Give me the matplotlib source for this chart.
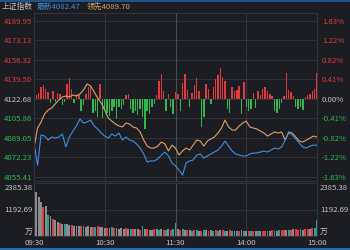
import numpy as np
import matplotlib
matplotlib.use('Agg')
import matplotlib.pyplot as plt

plt.rcParams['font.family'] = ['Noto Sans CJK SC', 'DejaVu Sans']

# 数据
prev_close = 4122.68
price_ticks = [4189.95, 4173.13, 4156.32, 4139.50, 4122.68, 4105.86, 4089.05, 4072.23, 4055.41]
vol_ticks = [1192.69, 2385.38]
time_labels = ['09:30', '10:30', '11:30', '14:00', '15:00']

# 最新价 (每3分钟)
price = [4084.6, 4065.7, 4091.5, 4090.6, 4087.2, 4089.8, 4088.9, 4089.8, 4092.4, 4081.2,
         4089.8, 4094.9, 4099.3, 4105.3, 4101.8, 4102.7, 4104.4, 4099.3, 4096.7, 4093.2,
         4090.6, 4088.9, 4092.4, 4090.6, 4093.2, 4087.2, 4089.8, 4087.2, 4086.3, 4083.8,
         4080.3, 4075.2, 4068.3, 4069.2, 4069.2, 4070.9, 4074.3, 4076.9, 4073.5, 4067.5,
         4064.9, 4061.4, 4057.1, 4067.5, 4069.2, 4070.0, 4074.3, 4075.2, 4071.7, 4073.5,
         4075.2, 4076.9, 4078.6, 4082.0, 4086.3, 4082.0, 4077.8, 4075.2, 4074.3, 4073.5,
         4073.5, 4075.2, 4076.0, 4076.0, 4076.9, 4077.8, 4076.9, 4078.6, 4080.3, 4079.5,
         4081.2, 4087.2, 4093.2, 4091.5, 4088.1, 4084.6, 4081.2, 4080.3, 4082.0, 4082.9,
         4082.47]
# 领先指标 (每3分钟)
lead = [4080.3, 4097.5, 4102.7, 4109.6, 4113.0, 4114.7, 4118.2, 4121.6, 4124.2, 4125.0,
        4124.2, 4125.9, 4125.0, 4126.8, 4130.2, 4135.4, 4133.6, 4128.5, 4123.3, 4119.0,
        4113.0, 4106.1, 4103.5, 4101.0, 4099.3, 4098.4, 4101.8, 4101.0, 4098.4, 4097.5,
        4094.1, 4087.2, 4082.0, 4080.3, 4080.3, 4082.0, 4085.5, 4083.8, 4077.8, 4082.9,
        4080.3, 4074.3, 4077.8, 4080.3, 4078.6, 4082.9, 4087.2, 4086.3, 4082.0, 4086.3,
        4088.1, 4089.8, 4093.2, 4097.5, 4104.4, 4098.4, 4095.8, 4095.8, 4099.3, 4101.8,
        4103.5, 4098.4, 4097.5, 4096.7, 4094.9, 4093.2, 4090.6, 4092.4, 4094.1, 4093.2,
        4094.1, 4087.2, 4094.1, 4093.2, 4089.8, 4086.3, 4085.5, 4087.2, 4088.9, 4090.6,
        4089.70]
# 多空力量 (每2分钟)
power = [5, 4, 6, 12, 14, 10, 7, -4, 8, -3, 6, 5, -6, -3, 15, 21, 10, -4, 5, 4,
         -12, -6, 5, 12, 13, -14, -12, -18, 15, -19, -10, -14, -17, -12, -8, -20, -8, -10, -6, 4,
         5, -10, -14, -12, -16, -10, -18, -30, -12, -15, -8, -5, 4, 18, 25, 8, -12, 5, -8, -15,
         7, 5, -12, 16, 25, 9, -8, 6, 14, 21, 8, -28, -18, 15, 10, -5, 12, 20, 24, 31,
         22, 18, -10, -14, 12, 8, 9, 13, -15, 17, -8, -12, -10, 6, -9, 8, 4, 10, 12, 8,
         5, 3, -12, -14, -10, -4, 3, 26, 9, 7, 3, -8, -10, -8, -11, 2, 4, 5, 8, 10,
         26]
# 成交量 万 (每2分钟)
volume = [2385, 1980, 1760, 1540, 1300, 1350, 950, 880, 780, 700,
          640, 600, 560, 540, 520, 500, 480, 470, 450, 460,
          440, 430, 420, 450, 410, 420, 400, 430, 390, 400,
          380, 370, 360, 390, 350, 340, 330, 360, 320, 340,
          310, 320, 300, 330, 310, 290, 450, 300, 310, 290,
          280, 320, 300, 290, 300, 280, 270, 300, 280, 310,
          600, 330, 280, 300, 290, 250, 260, 240, 270, 250,
          240, 230, 260, 250, 240, 260, 230, 250, 240, 280,
          260, 240, 230, 250, 220, 240, 230, 220, 250, 230,
          220, 240, 230, 220, 240, 230, 210, 230, 220, 240,
          230, 250, 240, 230, 250, 260, 250, 280, 270, 260,
          300, 320, 290, 300, 280, 320, 330, 310, 350, 380,
          720]
vol_color = ('wgggrgtgrggrgtggrggg' 'rtgggrtrgggrgtrggggr'
             'gtrggrtgrggrgtgrtgrt' 'tgrtgrgtrtgrtgrgtrtg'
             'rtgrtgtrgtgrtrgtgrrt' 'grtgtrrgtrgrrtgrrgrt' 't')

bg = '#1c1d22'
grid_c = '#34363d'
red = '#e0393e'
green = '#2cb84f'
gray = '#c4c4c4'
cmap = {'w': '#d8d8d8', 'g': '#8c8c8c', 't': '#2f9c98', 'r': '#d24048'}
fs = 5.6

fig = plt.figure(figsize=(3.5, 2.5), dpi=100, facecolor=bg)

ax = fig.add_axes([34/350, 1-181/250, 283/350, 168/250], facecolor=bg)
axv = fig.add_axes([34/350, 1-236/250, 283/350, 53/250], facecolor=bg)

# 价格区
step = (price_ticks[0] - price_ticks[-1]) / 156.5
ax.set_ylim(price_ticks[-1] - 4*step, price_ticks[0] + 7.5*step)
ax.set_xlim(0, 240)
for v in price_ticks:
    ax.axhline(v, color=grid_c, lw=0.6, zorder=0)
for m in [60, 180]:
    ax.axvline(m, color=grid_c, lw=0.7, zorder=0)
ax.axvline(120, color='#4a4c54', lw=0.8, zorder=0)

tp = np.arange(0, 241, 2)
pw = np.array(power) * step
ax.bar(tp, pw, bottom=prev_close, width=1.2,
       color=[red if p > 0 else green for p in pw], linewidth=0, zorder=1)

tl = np.arange(0, 241, 3)
ax.plot(tl, lead, color='#d9a262', lw=0.8, zorder=3)
ax.plot(tl, price, color='#3d8fe0', lw=0.8, zorder=3)

ax.set_yticks(price_ticks)
ax.set_yticklabels(['%.2f' % v for v in price_ticks], fontsize=fs)
for lab, v in zip(ax.get_yticklabels(), price_ticks):
    lab.set_color(red if v > prev_close else (green if v < prev_close else gray))
ax.tick_params(axis='y', length=0, pad=1.5)
ax.set_xticks([])

axr = ax.twinx()
axr.set_ylim(ax.get_ylim())
axr.set_yticks(price_ticks)
axr.set_yticklabels(['%.2f%%' % ((v/prev_close - 1)*100) for v in price_ticks], fontsize=fs)
for lab, v in zip(axr.get_yticklabels(), price_ticks):
    lab.set_color(red if v > prev_close else (green if v < prev_close else gray))
axr.tick_params(axis='y', length=0, pad=3.5)

for a in [ax, axr]:
    for s in a.spines.values():
        s.set_color(grid_c)
        s.set_linewidth(0.7)

# 成交量区
axv.set_xlim(0, 240)
axv.set_ylim(0, vol_ticks[1])
axv.axhline(vol_ticks[0], color=grid_c, lw=0.6, zorder=0)
for m in [60, 180]:
    axv.axvline(m, color=grid_c, lw=0.7, zorder=0)
axv.axvline(120, color='#4a4c54', lw=0.8, zorder=0)
axv.bar(tp, volume, width=1.6, color=[cmap[c] for c in vol_color], linewidth=0, zorder=1)
axv.set_yticks([])
axv.set_xticks([0, 60, 120, 180, 240])
axv.set_xticklabels(time_labels, fontsize=fs, color=gray)
axv.tick_params(axis='x', length=0, pad=2)
for s in axv.spines.values():
    s.set_color(grid_c)
    s.set_linewidth(0.7)

yt = axv.get_yaxis_transform()
for x, ha in [(-0.006, 'right'), (1.01, 'left')]:
    axv.text(x, vol_ticks[1] - 60, '%.2f' % vol_ticks[1], transform=yt, ha=ha, va='top',
             fontsize=fs, color=gray)
    axv.text(x, vol_ticks[0], '%.2f' % vol_ticks[0], transform=yt, ha=ha, va='center',
             fontsize=fs, color=gray)
    axv.text(x, 190, '万', transform=yt, ha=ha, va='center', fontsize=fs, color=gray)

# 标题
fig.text(2/350, 1-7/250, '上证指数', fontsize=fs, color=gray, va='center')
fig.text(37/350, 1-7/250, '最新4082.47', fontsize=fs, color='#3d8fe0', va='center')
fig.text(87/350, 1-7/250, '领先4089.70', fontsize=fs, color='#d9a262', va='center')

# 上下蓝边
fig.add_artist(plt.Line2D([0, 1], [0.997, 0.997], color='#1f5f9f', lw=1.2))
fig.add_artist(plt.Line2D([0, 1], [0.004, 0.004], color='#1d6fb8', lw=1.5))

fig.savefig('out.png', dpi=100, facecolor=bg)
